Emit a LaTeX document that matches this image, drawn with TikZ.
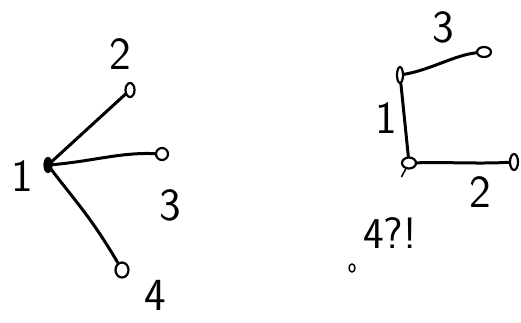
\documentclass[tikz,border=0pt]{standalone}
\usetikzlibrary{shapes.geometric}
\begin{document}
\begin{tikzpicture}[x=1pt,y=-1pt,
  vtx/.style={draw,ellipse,line width=2.2pt,inner sep=0pt},
  edge/.style={line width=3pt,line cap=round},
  lbl/.style={font=\sffamily\fontsize{46}{46}\selectfont,inner sep=0pt}]
\useasboundingbox (0,0) rectangle (521,322);
% left graph
\node[vtx,fill=black,minimum width=7pt,minimum height=14pt] (a1) at (48,165) {};
\node[vtx,minimum width=9pt,minimum height=14pt] (a2) at (130,90) {};
\node[vtx,minimum width=12pt,minimum height=12pt] (a3) at (162,154) {};
\node[vtx,minimum width=13pt,minimum height=15pt] (a4) at (122,270) {};
\draw[edge] (a1.center) -- (a2);
\draw[edge] (a1.center) .. controls (90,162) and (120,152) .. (a3);
\draw[edge] (a1.center) .. controls (70,195) and (90,215) .. (a4);
\node[lbl] (l1) at (22,176) {1};
\node[lbl] (l2) at (120,54) {2};
\node[lbl] (l3) at (170,205) {3};
\node[lbl] (l4) at (155,295) {4};
% right graph
\node[vtx,minimum width=6pt,minimum height=16pt] (b1) at (400,75) {};
\node[vtx,minimum width=14pt,minimum height=10pt] (b3) at (484,52) {};
\node[vtx,minimum width=14pt,minimum height=11pt] (b0) at (409,163) {};
\node[vtx,minimum width=8pt,minimum height=16pt] (b2) at (514,162) {};
\node[vtx,line width=1.4pt,minimum width=6pt,minimum height=8pt] (b4) at (352,268) {};
\draw[edge] (b1) .. controls (430,70) and (455,55) .. (b3);
\draw[edge] (b1) -- (b0);
\draw[edge] (b0) .. controls (450,162) and (480,164) .. (b2);
\draw[line width=1.5pt,dash pattern=on 9pt off 200pt] (b0) -- (b4);
\node[lbl] (r1) at (386,118) {1};
\node[lbl] (r3) at (443,27) {3};
\node[lbl] (r2) at (480,192) {2};
\node[font=\sffamily\fontsize{44}{44}\selectfont,inner sep=0pt] (q) at (390,233) {4?!};
\end{tikzpicture}
\end{document}
